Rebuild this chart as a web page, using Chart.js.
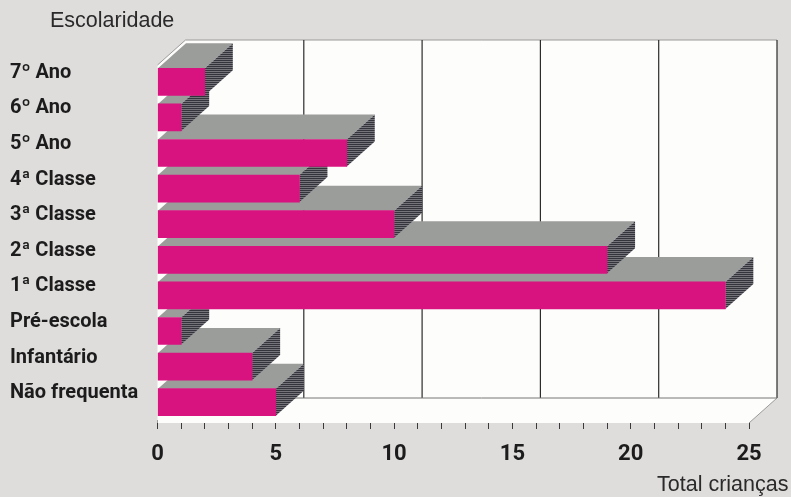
<!DOCTYPE html>
<html><head><meta charset="utf-8">
<style>
html,body{margin:0;padding:0;width:791px;height:497px;overflow:hidden;background:#dfdddc;}
#wrap{position:relative;width:791px;height:497px}
canvas{position:absolute;left:0;top:0}
.t{position:absolute;font-family:"Liberation Sans",Arial,sans-serif;font-size:21.5px;color:#2a2a2a;white-space:nowrap;line-height:24px}
</style>
<script src="https://cdn.jsdelivr.net/npm/chart.js@4"></script>
</head><body>
<div id="wrap">
<canvas id="c" width="791" height="497"></canvas>
<div class="t" style="left:50px;top:8px">Escolaridade</div>
<div class="t" style="left:657px;top:472px">Total crianças</div>
</div>
<script>
const categories=["7º Ano","6º Ano","5º Ano","4ª Classe","3ª Classe","2ª Classe","1ª Classe","Pré-escola","Infantário","Não frequenta"];
const totals=[2,1,8,6,10,19,24,1,4,5];
const axisMax=25;
const majorStep=5;
const depthX=28, depthY=25;

function hatch(ctx){
  const p=document.createElement('canvas');p.width=2;p.height=2;
  const g=p.getContext('2d');
  g.fillStyle='#74747a';g.fillRect(0,0,2,2);
  g.fillStyle='#34343c';g.fillRect(0,0,2,1);
  return ctx.createPattern(p,'repeat');
}
const box3d={
  id:'box3d',
  beforeDatasetsDraw(chart){
    const {ctx,scales:{x,y},chartArea:a}=chart;
    const x0=x.getPixelForValue(0),xM=x.getPixelForValue(axisMax);
    const top=a.top+1,bot=a.bottom+3;
    ctx.save();
    ctx.fillStyle='#fdfdfb';
    ctx.beginPath();
    ctx.moveTo(x0,top);ctx.lineTo(x0+depthX,top-depthY);
    ctx.lineTo(xM+depthX,top-depthY);ctx.lineTo(xM+depthX,bot-depthY);
    ctx.lineTo(xM,bot);ctx.lineTo(x0,bot);ctx.closePath();ctx.fill();
    ctx.lineWidth=1;ctx.strokeStyle='#9a9a9a';
    ctx.beginPath();
    ctx.moveTo(x0+depthX,top-depthY);ctx.lineTo(xM+depthX,top-depthY);
    ctx.moveTo(x0,top);ctx.lineTo(x0+depthX,top-depthY);
    ctx.moveTo(xM+depthX,bot-depthY);ctx.lineTo(xM,bot);
    ctx.stroke();
    ctx.strokeStyle='#2c2c2c';ctx.lineWidth=1.2;
    ctx.beginPath();
    for(let v=majorStep;v<=axisMax;v+=majorStep){
      const px=x.getPixelForValue(v)+depthX;
      ctx.moveTo(px,top-depthY);ctx.lineTo(px,bot-depthY);
    }
    ctx.stroke();
    ctx.strokeStyle='#777';ctx.lineWidth=1;
    ctx.beginPath();ctx.moveTo(x0+depthX,bot-depthY);ctx.lineTo(xM+depthX,bot-depthY);ctx.stroke();
    const side=hatch(ctx);
    const els=chart.getDatasetMeta(0).data;
    for(let i=els.length-1;i>=0;i--){
      const e=els[i].getProps(['x','y','base','height']);
      const t=e.y-e.height/2,b=e.y+e.height/2,l=e.base,r=e.x;
      ctx.fillStyle='#9b9d9b';
      ctx.beginPath();ctx.moveTo(l,t);ctx.lineTo(l+depthX,t-depthY);ctx.lineTo(r+depthX,t-depthY);ctx.lineTo(r,t);ctx.closePath();ctx.fill();
      ctx.fillStyle=side;
      ctx.beginPath();ctx.moveTo(r,t);ctx.lineTo(r+depthX,t-depthY);ctx.lineTo(r+depthX,b-depthY);ctx.lineTo(r,b);ctx.closePath();ctx.fill();
    }
    ctx.restore();
  }
};
new Chart(document.getElementById('c'),{
  type:'bar',
  data:{labels:categories,datasets:[{data:totals,backgroundColor:'#d8127f',barThickness:27}]},
  plugins:[box3d],
  options:{
    indexAxis:'y',responsive:false,animation:false,devicePixelRatio:1,
    layout:{padding:{left:10,right:42,top:64,bottom:0}},
    plugins:{legend:{display:false},tooltip:{enabled:false}},
    scales:{
      x:{min:0,max:axisMax,
        afterFit(s){s.height=77;},
        border:{display:false},
        grid:{drawOnChartArea:false,drawTicks:true,tickLength:9,color:'#3a3a3a',offset:false},
        ticks:{stepSize:1,autoSkip:false,maxRotation:0,padding:12,color:'#1c1c1c',
          font:{family:'Roboto,"Liberation Sans"',weight:'bold',size:22},
          callback(v){return v%majorStep===0?String(v):'';}}
      },
      y:{
        afterFit(s){s.width=147.5;},
        border:{display:false},
        grid:{display:false},
        ticks:{crossAlign:'far',padding:0,labelOffset:-9,color:'#1c1c1c',autoSkip:false,
          font:{family:'Roboto,"Liberation Sans"',weight:'bold',size:20}}
      }
    }
  }
});
</script>
</body></html>
